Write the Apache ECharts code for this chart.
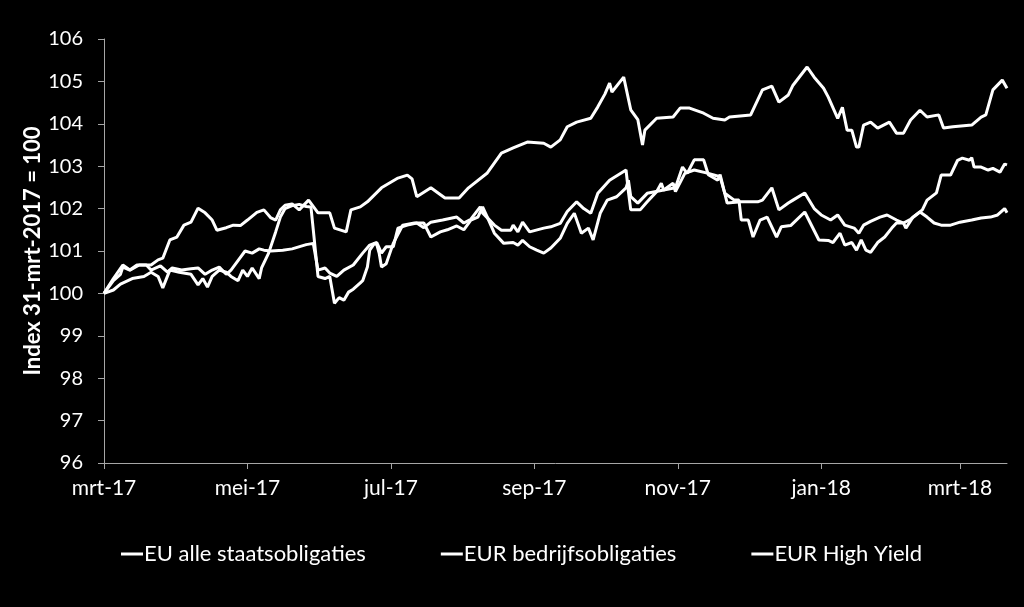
<!DOCTYPE html>
<html>
<head>
<meta charset="utf-8">
<script src="https://cdn.jsdelivr.net/npm/echarts@6/dist/echarts.min.js"></script>
<style>
  html, body { margin: 0; padding: 0; background: #000; }
  #chart { width: 1024px; height: 607px; }
</style>
</head>
<body>
<div id="chart"></div>
<script>
// dagen sinds 31-mrt-2017
const seriesNames = ['EU alle staatsobligaties', 'EUR bedrijfsobligaties', 'EUR High Yield'];

const xTickDays = [0, 61, 122, 183, 244, 305, 364];
const xTickLabels = ['mrt-17', 'mei-17', 'jul-17', 'sep-17', 'nov-17', 'jan-18', 'mrt-18'];

const govDays = [0,4,7,12,17,20,23,25,28,32,37,40,42,44,46,49,52,54,57,59,61,63,66,67,70,73,75,77,80,83,86,88,89,91,94,96,98,100,102,104,106,109,110,112,113,115,116,117,118,120,123,126,127,132,136,139,143,146,150,153,156,159,161,163,166,170,174,176,178,181,184,187,190,194,197,200,203,206,208,211,214,218,222,223,224,227,231,238,242,243,247,251,257,262,264,268,270,271,274,276,279,282,286,288,292,298,304,308,310,313,315,318,320,322,324,326,329,332,335,337,340,343,347,350,353,356,360,364,369,373,377,380,383,384];
const govValues = [100.00,100.08,100.22,100.35,100.40,100.50,100.40,100.13,100.55,100.50,100.45,100.20,100.35,100.15,100.40,100.55,100.50,100.40,100.30,100.55,100.40,100.60,100.35,100.60,100.95,101.45,101.80,102.00,102.07,102.10,102.05,102.04,101.50,100.40,100.35,100.40,99.77,99.90,99.84,100.03,100.10,100.25,100.30,100.62,101.02,101.18,101.15,100.95,100.62,100.70,101.18,101.50,101.61,101.66,101.66,101.33,101.45,101.50,101.59,101.50,101.73,101.80,102.04,101.80,101.42,101.18,101.20,101.14,101.25,101.10,101.02,100.95,101.07,101.30,101.65,101.89,101.42,101.54,101.26,101.89,102.20,102.28,102.49,102.67,102.28,102.13,102.36,102.44,102.60,102.40,102.83,102.91,102.83,102.75,102.36,102.20,102.20,101.73,101.73,101.33,101.73,101.80,101.33,101.57,101.60,101.92,101.26,101.25,101.20,101.42,101.14,101.20,101.02,101.26,101.02,100.97,101.20,101.33,101.54,101.66,101.66,101.75,101.92,101.80,101.66,101.61,101.61,101.68,101.73,101.78,101.80,101.85,102.00,101.90];

const corpDays = [0,4,7,8,11,14,18,20,24,27,29,33,37,40,43,46,49,52,54,58,60,63,66,68,71,76,80,86,89,91,94,96,99,102,106,110,113,116,118,120,123,125,129,133,136,139,144,150,153,156,160,161,166,169,173,174,176,178,181,187,190,194,197,201,204,207,210,215,222,223,224,228,231,235,237,238,243,246,248,251,255,257,261,262,265,271,278,280,284,287,291,293,298,302,305,309,312,315,319,321,323,326,330,333,337,340,341,344,348,350,354,356,360,363,365,368,369,370,373,376,378,381,383,384];
const corpValues = [100.00,100.30,100.45,100.62,100.55,100.67,100.67,100.55,100.65,100.50,100.60,100.55,100.58,100.60,100.45,100.55,100.62,100.45,100.55,100.85,101.00,100.95,101.05,101.02,101.00,101.02,101.05,101.15,101.18,100.55,100.60,100.48,100.40,100.55,100.67,100.95,101.14,101.20,100.95,101.10,101.10,101.54,101.61,101.66,101.55,101.68,101.73,101.80,101.66,101.75,102.04,101.90,101.61,101.49,101.49,101.61,101.45,101.68,101.45,101.54,101.57,101.65,101.93,102.16,102.00,101.89,102.36,102.67,102.91,102.40,101.97,101.97,102.16,102.40,102.60,102.44,102.49,102.98,102.83,103.15,103.15,102.80,102.67,102.80,102.13,102.16,102.16,102.20,102.49,101.97,102.13,102.20,102.37,102.00,101.85,101.73,101.85,101.61,101.54,101.42,101.61,101.70,101.80,101.85,101.73,101.66,101.54,101.80,101.97,102.20,102.37,102.79,102.79,103.14,103.19,103.14,103.20,102.98,102.98,102.91,102.95,102.86,103.05,103.03];

const hyDays = [0,4,8,11,15,20,23,25,28,31,34,37,40,43,46,48,52,55,58,61,65,68,71,73,75,77,80,83,87,91,96,98,103,105,109,112,118,125,129,131,133,139,145,151,155,163,169,174,180,187,190,194,197,201,207,210,213,215,216,221,224,227,229,230,235,242,245,249,255,259,264,266,275,280,284,287,291,293,299,302,306,308,312,314,316,318,320,321,323,326,329,334,337,340,343,347,350,355,357,361,369,373,375,378,382,384];
const hyValues = [100.00,100.35,100.67,100.55,100.67,100.67,100.79,100.83,101.26,101.33,101.61,101.68,102.01,101.90,101.73,101.49,101.55,101.61,101.60,101.73,101.91,101.97,101.78,101.73,101.97,102.08,102.11,101.97,102.20,101.90,101.90,101.54,101.45,101.97,102.04,102.16,102.49,102.72,102.79,102.70,102.28,102.49,102.25,102.25,102.49,102.84,103.31,103.43,103.57,103.54,103.45,103.62,103.93,104.04,104.13,104.40,104.70,104.96,104.75,105.10,104.33,104.10,103.50,103.85,104.13,104.16,104.37,104.37,104.25,104.13,104.09,104.16,104.21,104.80,104.89,104.51,104.68,104.91,105.34,105.10,104.84,104.63,104.13,104.39,103.85,103.85,103.45,103.45,103.97,104.04,103.90,104.04,103.78,103.78,104.09,104.32,104.16,104.21,103.90,103.93,103.97,104.16,104.21,104.80,105.03,104.84];

const pair = (days, values) => days.map((d, i) => [d, values[i]]);

const chart = echarts.init(document.getElementById('chart'));

const font = 'Lato, "Open Sans", sans-serif';

const lineSeries = (name, data) => ({
  name: name,
  type: 'line',
  data: data,
  symbol: 'none',
  lineStyle: { color: '#ffffff', width: 3 },
  itemStyle: { color: '#ffffff' }
});

chart.setOption({
  backgroundColor: '#000000',
  animation: false,
  textStyle: { fontFamily: font },
  grid: { left: 104, right: 17, top: 39, bottom: 144, outerBoundsMode: 'none' },
  legend: {
    data: seriesNames,
    bottom: 37,
    left: 116,
    itemGap: 75,
    itemWidth: 22,
    itemHeight: 3,
    icon: 'rect',
    textStyle: { color: '#ffffff', fontSize: 22, fontFamily: font, padding: [0, 0, 0, -4] }
  },
  xAxis: {
    type: 'value',
    min: 0,
    max: 384,
    splitLine: { show: false },
    axisLine: { lineStyle: { color: '#a6a6a6', width: 1 } },
    axisTick: {
      customValues: xTickDays,
      length: 6,
      lineStyle: { color: '#a6a6a6' }
    },
    axisLabel: {
      customValues: xTickDays,
      color: '#ffffff',
      fontSize: 21,
      margin: 15,
      formatter: (v) => xTickLabels[xTickDays.indexOf(Math.round(v))] || ''
    }
  },
  yAxis: {
    type: 'value',
    min: 96,
    max: 106,
    interval: 1,
    name: 'Index 31-mrt-2017 = 100',
    nameLocation: 'middle',
    nameGap: 60,
    nameMoveOverlap: false,
    nameTextStyle: { color: '#ffffff', fontSize: 22, fontWeight: 'bold', fontFamily: font },
    splitLine: { show: false },
    axisLine: { show: true, lineStyle: { color: '#a6a6a6', width: 1 } },
    axisTick: { show: true, length: 6, lineStyle: { color: '#a6a6a6' } },
    axisLabel: { color: '#ffffff', fontSize: 20, margin: 21 }
  },
  series: [
    lineSeries(seriesNames[0], pair(govDays, govValues)),
    lineSeries(seriesNames[1], pair(corpDays, corpValues)),
    lineSeries(seriesNames[2], pair(hyDays, hyValues))
  ]
});
</script>
</body>
</html>
